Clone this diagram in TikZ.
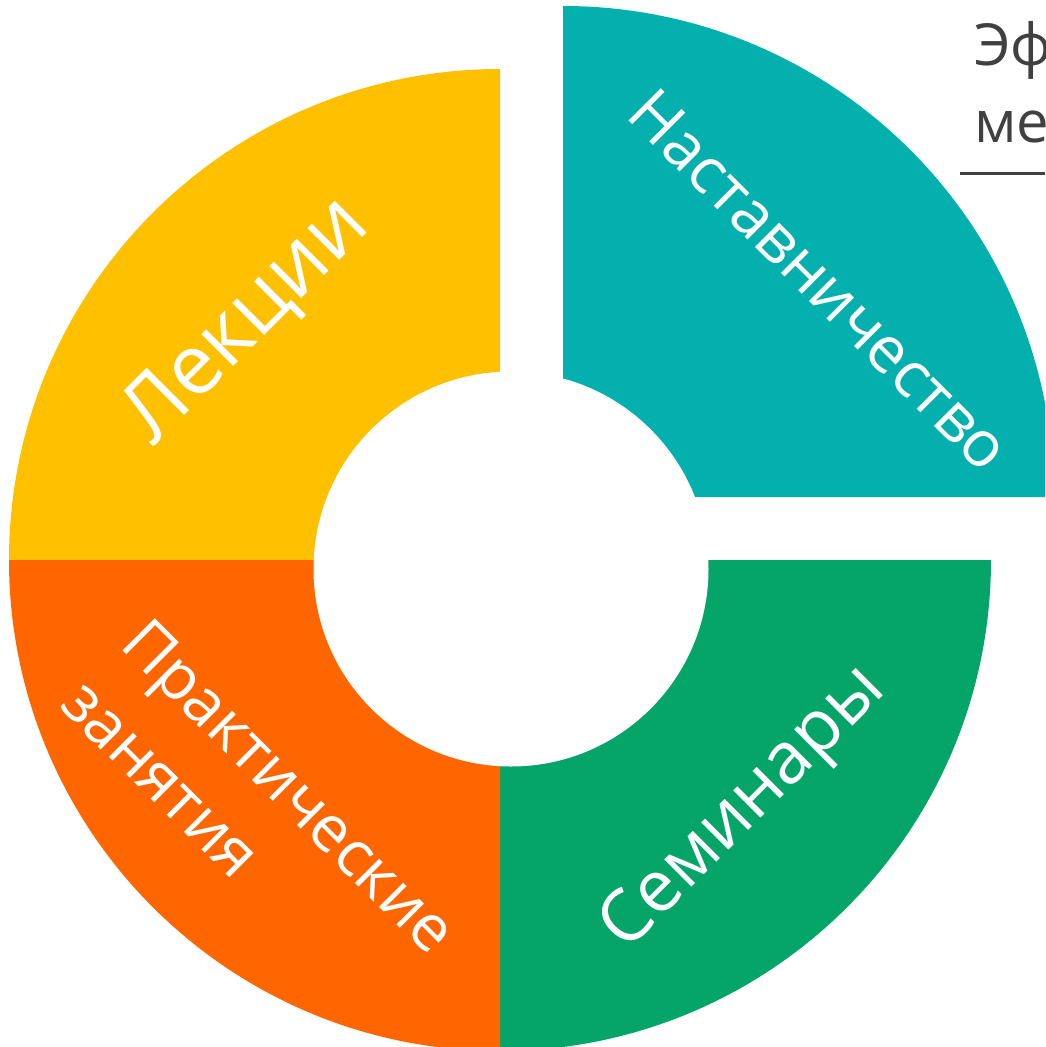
\documentclass[tikz,border=0pt]{standalone}
\usepackage{fontspec}
\setmainfont{Open Sans}
\usepackage{tikz}
\usetikzlibrary{positioning}
\definecolor{lekc}{RGB}{255,192,0}
\definecolor{nastc}{RGB}{4,176,174}
\definecolor{semc}{RGB}{5,165,106}
\definecolor{prakc}{RGB}{255,102,0}
\definecolor{ttlc}{RGB}{64,64,64}

\begin{document}
\begin{tikzpicture}[x=1pt, y=-1pt,
  lbl/.style={text=white, inner sep=0pt, font=\fontsize{#1}{85}\selectfont}]

\useasboundingbox (0,0) rectangle (1045,1047);
\clip (0,0) rectangle (1045,1047);

\coordinate (c) at (500,560);
\coordinate (ct) at (563,497);
\coordinate (hole) at (511,569);

% four parts of the ring
\fill[lekc] (c) -- ++(180:491) arc[start angle=180, end angle=270, radius=491] -- cycle;
\fill[nastc] (ct) -- ++(270:491) arc[start angle=270, end angle=360, radius=491] -- cycle;
\fill[semc] (c) -- ++(0:491) arc[start angle=0, end angle=90, radius=491] -- cycle;
\fill[prakc] (c) -- ++(90:491) arc[start angle=90, end angle=180, radius=491] -- cycle;
\fill[white] (hole) circle[radius=197.5];

\node[lbl=84, anchor=base, rotate=45] (lek) at (263,337) {Лекции};
\node[lbl=64, anchor=base, rotate=-45] (nast) at (804,296) {Наставничество};
\node[lbl=72, anchor=base, rotate=45] (sem) at (757,822) {Семинары};
\node[lbl=64, anchor=base west, rotate=-45, align=left] (prak) at (58,706) {Практические\\занятия};

\node[text=ttlc, inner sep=0pt, anchor=base west, align=left,
  font=\fontsize{58}{77}\selectfont] (ttl) at (974,142) {Эф\\ме};
\draw[ttlc, line width=3pt] (960,173) -- (1045,173);

\end{tikzpicture}
\end{document}
